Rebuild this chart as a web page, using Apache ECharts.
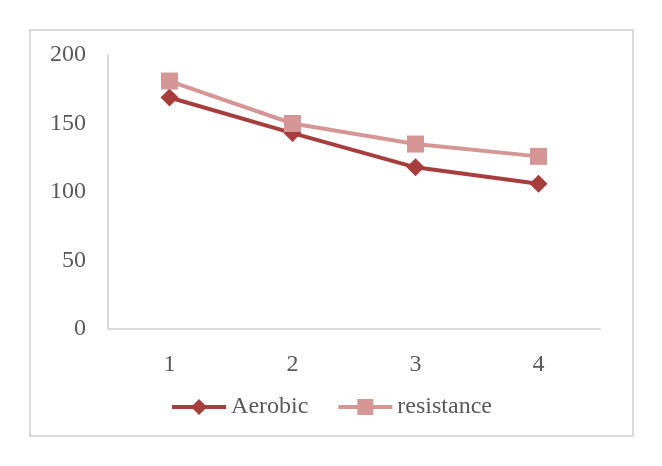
<!DOCTYPE html>
<html>
<head>
<meta charset="utf-8">
<script src="https://cdn.jsdelivr.net/npm/echarts@6/dist/echarts.min.js"></script>
<style>
  html, body { margin: 0; padding: 0; background: #fff; }
  #chart { width: 662px; height: 466px; }
</style>
</head>
<body>
<div id="chart"></div>
<script>
const categories = ['1', '2', '3', '4']
const aerobic = [169, 143, 118, 106]
const resistance = [181, 150, 135, 126]
const yTicks = { min: 0, max: 200, interval: 50 }

const chart = echarts.init(document.getElementById('chart'))
const labelFont = { color: '#595959', fontFamily: 'Liberation Serif', fontSize: 24 }

const option = {
  animation: false,
  backgroundColor: '#fff',
  color: ['#A63E3E', '#D59696'],
  graphic: [{
    type: 'rect',
    shape: { x: 30, y: 30, width: 603, height: 406 },
    style: { fill: 'none', stroke: '#d9d9d9', lineWidth: 2 },
    silent: true
  }],
  grid: { left: 108, right: 62, top: 55, bottom: 137 },
  legend: {
    bottom: 42,
    left: 'center',
    itemWidth: 54,
    itemHeight: 20,
    itemGap: 28,
    lineStyle: { width: 4 },
    textStyle: labelFont,
    data: ['Aerobic', 'resistance']
  },
  xAxis: {
    type: 'category',
    data: categories,
    boundaryGap: true,
    axisLine: { lineStyle: { color: '#d9d9d9', width: 2 } },
    axisTick: { show: false },
    axisLabel: Object.assign({ margin: 24 }, labelFont)
  },
  yAxis: {
    type: 'value',
    min: yTicks.min,
    max: yTicks.max,
    interval: yTicks.interval,
    axisLine: { show: true, lineStyle: { color: '#d9d9d9', width: 2 } },
    axisTick: { show: false },
    splitLine: { show: false },
    axisLabel: Object.assign({ margin: 22 }, labelFont)
  },
  series: [
    {
      name: 'Aerobic',
      type: 'line',
      data: aerobic,
      symbol: 'diamond',
      symbolSize: 18,
      lineStyle: { width: 4 }
    },
    {
      name: 'resistance',
      type: 'line',
      data: resistance,
      symbol: 'rect',
      symbolSize: 17,
      lineStyle: { width: 4 }
    }
  ]
}

chart.setOption(option)
</script>
</body>
</html>
